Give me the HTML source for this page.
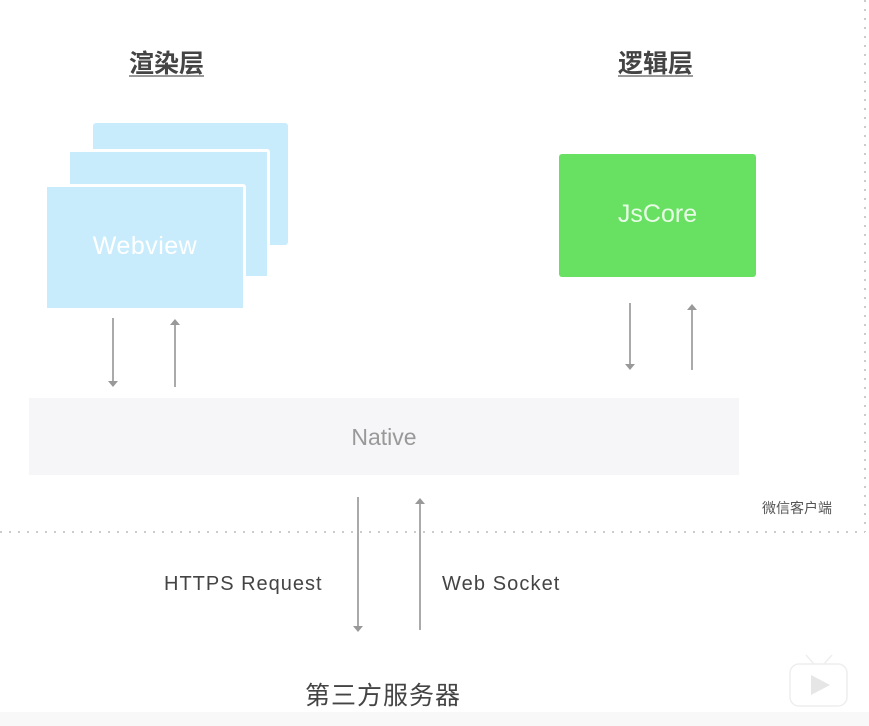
<!DOCTYPE html>
<html><head><meta charset="utf-8"><style>
body{margin:0;width:869px;height:726px;background:#fff;position:relative;overflow:hidden;font-family:"Liberation Sans","Noto Sans CJK SC",sans-serif}
.a{position:absolute}
.t{position:absolute;font-size:25px;font-weight:bold;color:#444;text-decoration:underline;text-decoration-color:#999;text-underline-offset:3px;line-height:1}
.b{position:absolute;background:#c9ecfc;border-radius:3px}
.w{border:3px solid #fff}
</style></head><body>
<div class="t" style="left:129px;top:52px">渲染层</div>
<div class="t" style="left:618px;top:52px">逻辑层</div>
<div class="b" style="left:93px;top:123px;width:195px;height:122px"></div>
<div class="b w" style="left:67px;top:149px;width:197px;height:124px"></div>
<div class="b w" style="left:44px;top:184px;width:196px;height:121px"></div>
<div class="a" style="left:47px;top:232px;width:196px;text-align:center;color:#fff;font-size:25px;letter-spacing:0.5px">Webview</div>
<div class="a" style="left:559px;top:154px;width:197px;height:123px;background:#68e162;border-radius:3px"></div>
<div class="a" style="left:559px;top:200px;width:197px;text-align:center;color:#e8fbe6;font-size:25px">JsCore</div>
<div class="a" style="left:29px;top:398px;width:710px;height:77px;background:#f6f5f7"></div>
<div class="a" style="left:29px;top:424px;width:710px;text-align:center;color:#999;font-size:23px">Native</div>
<div class="a" style="left:762px;top:498px;font-size:14px;color:#555">微信客户端</div>
<div class="a" style="left:164px;top:573px;font-size:20px;color:#444;letter-spacing:1px">HTTPS Request</div>
<div class="a" style="left:442px;top:573px;font-size:20px;color:#444;letter-spacing:1.1px">Web Socket</div>
<div class="a" style="left:305px;top:676px;font-size:25px;color:#444;letter-spacing:1px">第三方服务器</div>
<div class="a" style="left:0;top:712px;width:869px;height:14px;background:#f8f8f8"></div>
<svg class="a" style="left:0;top:0" width="869" height="726">
<g stroke="#aaa" stroke-width="2" fill="#999">
<line x1="0" y1="532" x2="865" y2="532" stroke="#ccc" stroke-dasharray="2,7"/>
<line x1="865" y1="0" x2="865" y2="532" stroke="#ccc" stroke-dasharray="2,7"/>
<line x1="113" y1="318" x2="113" y2="383"/><path d="M108,381h10l-5,6z" stroke="none"/>
<line x1="175" y1="323" x2="175" y2="387"/><path d="M170,325h10l-5,-6z" stroke="none"/>
<line x1="630" y1="303" x2="630" y2="366"/><path d="M625,364h10l-5,6z" stroke="none"/>
<line x1="692" y1="308" x2="692" y2="370"/><path d="M687,310h10l-5,-6z" stroke="none"/>
<line x1="358" y1="497" x2="358" y2="628"/><path d="M353,626h10l-5,6z" stroke="none"/>
<line x1="420" y1="502" x2="420" y2="630"/><path d="M415,504h10l-5,-6z" stroke="none"/>
</g>
<g fill="#fff" stroke="#eee" stroke-width="1.5">
<rect x="790" y="664" width="57" height="42" rx="9"/>
<line x1="806" y1="655" x2="814" y2="664"/><line x1="832" y1="655" x2="824" y2="664"/>
</g>
<path d="M811,675v20l19,-10z" fill="#e6e6e6"/>
</svg>
</body></html>
